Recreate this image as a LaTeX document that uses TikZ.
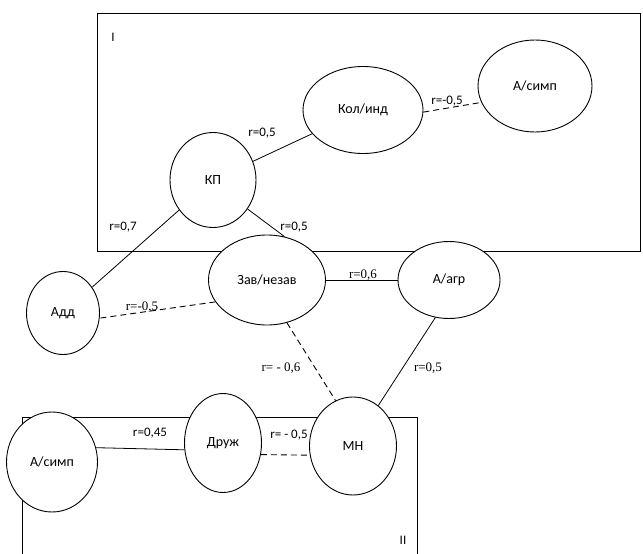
\documentclass[tikz,border=0pt]{standalone}
\usepackage{fontspec}
\setmainfont{Carlito}
\newfontfamily\serifcoef{Liberation Serif}
\usetikzlibrary{shapes.geometric}
\tikzset{%
    factor/.style={shape=ellipse,draw,line width=0.9pt,fill=white,inner sep=0pt,font=\fontsize{14}{16}\selectfont},
    link/.style={line width=0.8pt},
    neglink/.style={line width=0.9pt,dash pattern=on 6pt off 4pt},
    coef/.style={inner sep=0pt,font=\fontsize{13}{15}\selectfont},
    coefserif/.style={inner sep=0pt,font=\serifcoef\fontsize{13}{15}\selectfont},
    groupbox/.style={line width=0.9pt},
}

\begin{document}
\begin{tikzpicture}[x=1pt,y=-1pt]
      \useasboundingbox (0,0) rectangle (643,554);

      \draw [groupbox] (97,13) rectangle (640,251);
      \draw [groupbox] (22,554) -- (22,417) -- (417,417) -- (417,554);
      \node [coef] (lblI) at (113,37) {I};
      \node [coef] (lblII) at (403,540) {II};

      \node [factor,minimum width=86,minimum height=95] (kp) at (213,180) {КП};
      \node [factor,minimum width=120,minimum height=87] (kol) at (363,110) {Кол/инд};
      \node [factor,minimum width=114,minimum height=92] (asimpI) at (535,86) {А/симп};
      \node [factor,minimum width=117,minimum height=90] (zav) at (267,280) {Зав/незав};
      \node [factor,minimum width=102,minimum height=77] (aagr) at (449,280) {А/агр};
      \node [factor,minimum width=73,minimum height=83] (add) at (63,313) {Адд};
      \node [factor,minimum width=77,minimum height=99] (druzh) at (223,443) {Друж};
      \node [factor,minimum width=87,minimum height=98] (mn) at (353,446) {МН};
      \node [factor,minimum width=91,minimum height=100] (asimpII) at (52,462) {А/симп};

      \draw [link] (kp) -- (kol);
      \draw [neglink] (kol.-2) -- (asimpI.197);
      \draw [link] (kp) -- (add);
      \draw [link] (kp.-40) -- (zav.68);
      \draw [neglink] (zav.203) -- (add.-8);
      \draw [link] (zav) -- (aagr);
      \draw [neglink] (zav.-65) -- (mn.111);
      \draw [link] (aagr.-110) -- (mn.58);
      \draw [link] (asimpII.18) -- (druzh.190);
      \draw [neglink] (druzh.-17) -- (mn.192);

      \node [coef] (c1) at (262,133) {r=0,5};
      \node [coef] (c2) at (447,101) {r=-0,5};
      \node [coef] (c3) at (123,227) {r=0,7};
      \node [coef] (c4) at (294,227) {r=0,5};
      \node [coefserif] (c5) at (142,307) {r=-0,5};
      \node [coefserif] (c6) at (363,275) {r=0,6};
      \node [coefserif] (c7) at (281,368) {r= - 0,6};
      \node [coefserif] (c8) at (428,368) {r=0,5};
      \node [coef] (c9) at (150,433) {r=0,45};
      \node [coef] (c10) at (289,435) {r= - 0,5};
\end{tikzpicture}
\end{document}
